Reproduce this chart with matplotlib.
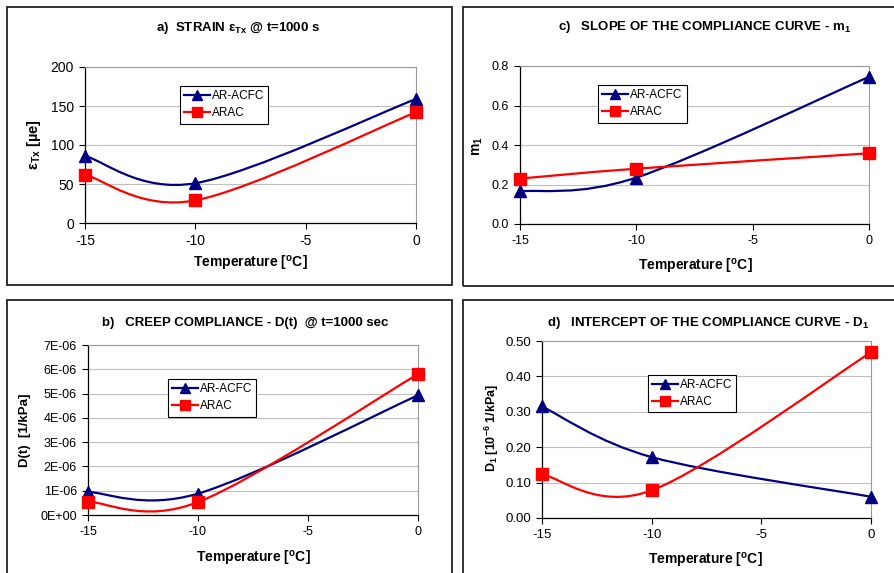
import numpy as np
import matplotlib
matplotlib.use("Agg")
import matplotlib.pyplot as plt
from matplotlib.path import Path
from matplotlib.patches import PathPatch, Rectangle
from matplotlib.lines import Line2D

plt.rcParams['font.family'] = ['Liberation Sans', 'DejaVu Sans']
plt.rcParams['mathtext.fontset'] = 'custom'
plt.rcParams['mathtext.rm'] = 'Liberation Sans'
plt.rcParams['mathtext.bf'] = 'Liberation Sans:bold'
plt.rcParams['mathtext.default'] = 'bf'
plt.rcParams['axes.unicode_minus'] = False

# data
temps = [-15, -10, 0]
series_names = ['AR-ACFC', 'ARAC']

strain_acfc = [86, 51, 159]
strain_arac = [62, 29, 142]

slope_acfc = [0.165, 0.235, 0.745]
slope_arac = [0.23, 0.28, 0.358]

creep_acfc = [0.95e-6, 0.88e-6, 4.93e-6]
creep_arac = [0.55e-6, 0.53e-6, 5.80e-6]

icpt_acfc = [0.315, 0.172, 0.060]
icpt_arac = [0.123, 0.078, 0.468]

x_ticks = [-15, -10, -5, 0]
creep_ticks = [0, 1e-6, 2e-6, 3e-6, 4e-6, 5e-6, 6e-6, 7e-6]
creep_labels = ['0E+00', '1E-06', '2E-06', '3E-06', '4E-06', '5E-06', '6E-06', '7E-06']

W, H = 895, 573
NAVY = '#000080'
RED = '#ff0000'


def px(x0, y0, x1, y1):
    # pixel box -> figure fraction [left, bottom, width, height]
    return [x0 / W, 1 - y1 / H, (x1 - x0) / W, (y1 - y0) / H]


def smooth_path(x, y):
    # Excel style smoothed line: cubic Bezier through every point
    p = np.column_stack([x, y]).astype(float)
    ext = np.vstack([p[0], p, p[-1]])
    verts = [p[0]]
    codes = [Path.MOVETO]
    for i in range(len(p) - 1):
        c1 = ext[i + 1] + (ext[i + 2] - ext[i]) / 6.0
        c2 = ext[i + 2] - (ext[i + 3] - ext[i + 1]) / 6.0
        verts += [c1, c2, p[i + 1]]
        codes += [Path.CURVE4] * 3
    return Path(verts, codes)


def panel(box, ylim, yticks, ylabels, y1, y2, tick_fs, leg_xy):
    ax = fig.add_axes(px(*box))
    ax.set_xlim(-15, 0)
    ax.set_ylim(*ylim)
    for xs, ys, col, mk, ms in [(temps, y1, NAVY, '^', 8), (temps, y2, RED, 's', 8)]:
        ax.add_patch(PathPatch(smooth_path(xs, ys), fill=False, edgecolor=col,
                               lw=1.6, zorder=3, clip_on=False))
        ax.plot(xs, ys, linestyle='none', marker=mk, color=col, markersize=ms,
                zorder=4, clip_on=False)
    ax.set_xticks(x_ticks)
    ax.set_xticklabels([str(t) for t in x_ticks], fontsize=tick_fs)
    ax.set_yticks(yticks)
    ax.set_yticklabels(ylabels, fontsize=tick_fs)
    ax.grid(axis='y', color='#bfbfbf', lw=0.8)
    ax.set_axisbelow(True)
    for s in ['top', 'right']:
        ax.spines[s].set_color('#999999')
        ax.spines[s].set_linewidth(0.8)
    for s in ['left', 'bottom']:
        ax.spines[s].set_color('black')
        ax.spines[s].set_linewidth(0.9)
    ax.tick_params(direction='out', length=4, width=0.8, pad=4)
    handles = [Line2D([], [], color=NAVY, marker='^', lw=1.6, markersize=7),
               Line2D([], [], color=RED, marker='s', lw=1.6, markersize=7)]
    leg = ax.legend(handles, series_names, loc='upper left', bbox_to_anchor=leg_xy,
                    borderaxespad=0, fancybox=False, framealpha=1, fontsize=8.5,
                    handlelength=2.2, handletextpad=0.15, labelspacing=0.45,
                    borderpad=0.35)
    leg.get_frame().set_edgecolor('black')
    leg.get_frame().set_linewidth(0.8)
    return ax


fig = plt.figure(figsize=(W / 100, H / 100), dpi=100)

# panel frames
for x0, y0, x1, y1 in [(7, 7, 452, 285), (463, 7, 905, 286),
                       (7, 300, 452, 590), (463, 300, 905, 590)]:
    fig.patches.append(Rectangle((x0 / W, 1 - y1 / H), (x1 - x0) / W, (y1 - y0) / H,
                                 transform=fig.transFigure, fill=False,
                                 edgecolor='#222222', lw=1.3))

# a) strain
panel((85, 67, 416, 223), (0, 200), [0, 50, 100, 150, 200],
      ['0', '50', '100', '150', '200'], strain_acfc, strain_arac, 10,
      (0.287, 0.878))
# c) slope
panel((520, 66, 869, 224), (0, 0.8), [0, 0.2, 0.4, 0.6, 0.8],
      ['0.0', '0.2', '0.4', '0.6', '0.8'], slope_acfc, slope_arac, 9,
      (0.224, 0.88))
# b) creep compliance
panel((88, 345, 418, 515), (0, 7e-6), creep_ticks, creep_labels,
      creep_acfc, creep_arac, 9, (0.242, 0.8))
# d) intercept
panel((542, 341, 871, 518), (0, 0.5), [0, 0.1, 0.2, 0.3, 0.4, 0.5],
      ['0.00', '0.10', '0.20', '0.30', '0.40', '0.50'], icpt_acfc, icpt_arac, 9.5,
      (0.322, 0.81))

# titles
fig.text(238 / W, 1 - 28 / H, 'a)  STRAIN ε$_{Tx}$ @ t=1000 s', ha='center',
         va='center', fontsize=9.5, fontweight='bold')
fig.text(705 / W, 1 - 27 / H, 'c)   SLOPE OF THE COMPLIANCE CURVE - m$_1$',
         ha='center', va='center', fontsize=9.5, fontweight='bold')
fig.text(245 / W, 1 - 323 / H, 'b)   CREEP COMPLIANCE - D(t)  @ t=1000 sec',
         ha='center', va='center', fontsize=9.5, fontweight='bold')
fig.text(708 / W, 1 - 323 / H, 'd)   INTERCEPT OF THE COMPLIANCE CURVE - D$_1$',
         ha='center', va='center', fontsize=9.5, fontweight='bold')

# x labels
for xc, yc in [(250, 263), (695, 266), (253, 558), (705, 560)]:
    fig.text(xc / W, 1 - yc / H, 'Temperature [$^{o}$C]', ha='center',
             va='center', fontsize=10, fontweight='bold')

# y labels
fig.text(34 / W, 1 - 145 / H, 'ε$_{Tx}$ [µe]', rotation=90, ha='center',
         va='center', fontsize=10.5, fontweight='bold')
fig.text(478 / W, 1 - 146 / H, 'm$_1$', rotation=90, ha='center',
         va='center', fontsize=10, fontweight='bold')
fig.text(25 / W, 1 - 430 / H, 'D(t)  [1/kPa]', rotation=90, ha='center',
         va='center', fontsize=9.5, fontweight='bold')
fig.text(492 / W, 1 - 428 / H, 'D$_1$ [10$^{-6}$ 1/kPa]', rotation=90,
         ha='center', va='center', fontsize=9, fontweight='bold')

fig.savefig('out.png', dpi=100)
